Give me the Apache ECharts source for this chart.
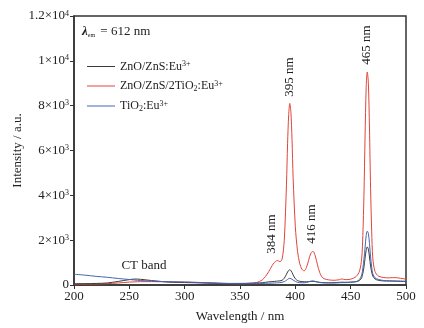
<!DOCTYPE html>
<html>
<head>
<meta charset="utf-8">
<title>Excitation spectra</title>
<script src="https://cdn.jsdelivr.net/npm/echarts@6/dist/echarts.min.js"></script>
<style>
html, body { margin: 0; padding: 0; background: #fff; }
#main { width: 424px; height: 328px; }
</style>
</head>
<body>
<div id="main"></div>
<script>
// wavelengths (nm), shared by all three curves
var wl = [200,210,220,230,240,250,255,260,270,280,290,300,310,320,330,340,350,360,365,370,
  373,376,379,381,383,384,386,388,390,392,393,394,395,396,397,398,400,402,404,406,408,
  410,412,414,416,418,420,422,424,426,430,435,440,442,445,450,455,458,460,461,462,463,
  464,465,466,467,468,469,470,472,475,480,485,490,495,500];

// ZnO/ZnS:Eu3+
var blackI = [60,60,70,90,160,240,265,255,200,150,120,110,100,90,80,70,70,80,90,100,
  120,140,150,160,170,175,185,210,300,480,580,650,680,640,560,450,280,200,165,150,145,
  145,150,160,165,150,135,120,110,105,100,105,120,125,120,130,150,200,330,520,800,1200,
  1550,1700,1600,1250,850,580,400,270,210,180,175,170,160,150];

// ZnO/ZnS/2TiO2:Eu3+
var redI = [40,40,45,60,90,130,140,150,150,145,140,130,110,90,70,60,60,80,110,220,
  380,600,860,1000,1080,1090,1040,1150,2000,4500,6300,7600,8100,7700,6500,4800,2600,1500,950,700,630,
  780,1100,1420,1500,1300,900,560,360,280,230,210,240,270,240,260,380,620,1200,2200,4000,6600,
  8800,9500,9000,7000,4300,2400,1200,600,400,330,320,330,300,260];

// TiO2:Eu3+
var blueI = [480,440,385,345,290,245,220,200,175,155,140,130,120,100,80,65,55,60,65,70,
  75,80,85,90,95,100,105,120,150,210,250,285,300,285,255,220,160,120,105,100,100,
  110,140,170,180,160,130,110,100,95,90,90,100,105,105,120,150,250,450,750,1150,1650,
  2200,2400,2300,1850,1250,800,500,320,250,200,190,180,175,170];

var names = ['ZnO/ZnS:Eu3+', 'ZnO/ZnS/2TiO2:Eu3+', 'TiO2:Eu3+'];
var legendText = {
  'ZnO/ZnS:Eu3+': 'ZnO/ZnS:Eu{sup|3+}',
  'ZnO/ZnS/2TiO2:Eu3+': 'ZnO/ZnS/2TiO{sub|2}:Eu{sup|3+}',
  'TiO2:Eu3+': 'TiO{sub|2}:Eu{sup|3+}'
};
var yTicks = {0: '0', 2000: '2×10{sup|3}', 4000: '4×10{sup|3}', 6000: '6×10{sup|3}',
  8000: '8×10{sup|3}', 10000: '1×10{sup|4}', 12000: '1.2×10{sup|4}'};
var peaks = [
  {text: '384 nm', x: 272, y: 234},
  {text: '395 nm', x: 290, y: 77},
  {text: '416 nm', x: 312, y: 224},
  {text: '465 nm', x: 367, y: 45}
];

function pairs(vals) {
  var out = [];
  for (var i = 0; i < wl.length; i++) out.push([wl[i], vals[i]]);
  return out;
}

var font = 'Liberation Serif';
var rich = {
  sup: {fontSize: 8, fontFamily: font, color: '#222', verticalAlign: 'top', padding: [0, 0, 5, 0]},
  sub: {fontSize: 8, fontFamily: font, color: '#222', verticalAlign: 'bottom', padding: [5, 0, 0, 0]}
};

var chart = echarts.init(document.getElementById('main'));

var graphics = [{
  type: 'text', left: 82, top: 25,
  style: {
    text: '{it|λ}{s|em} = 612 nm',
    font: '13px ' + font, fill: '#222',
    rich: {
      it: {fontStyle: 'italic', fontWeight: 'bold', fontSize: 13, fontFamily: font},
      s: {fontSize: 6, fontFamily: font, padding: [7, 2, 0, 0]}
    }
  }
}, {
  type: 'text', x: 144, y: 266,
  style: {text: 'CT band', font: '13px ' + font, fill: '#222', textAlign: 'center', textVerticalAlign: 'middle'}
}];
peaks.forEach(function (p) {
  graphics.push({
    type: 'text', x: p.x, y: p.y, rotation: Math.PI / 2,
    style: {text: p.text, font: '13px ' + font, fill: '#222', textAlign: 'center', textVerticalAlign: 'middle'}
  });
});

chart.setOption({
  animation: false,
  grid: {left: 74, right: 18, top: 16, bottom: 43, outerBoundsMode: 'none',
    show: true, borderColor: '#333', borderWidth: 1.5},
  legend: {
    orient: 'vertical', left: 82, top: 55,
    itemWidth: 28, itemHeight: 10, itemGap: 7,
    icon: 'path://M0,0 L28,0 L28,1 L0,1 Z',
    data: names,
    formatter: function (n) { return legendText[n]; },
    textStyle: {fontFamily: font, fontSize: 12, color: '#222', rich: rich}
  },
  xAxis: {
    type: 'value', min: 200, max: 500, interval: 50,
    name: 'Wavelength / nm', nameLocation: 'middle', nameGap: 25, nameMoveOverlap: false,
    nameTextStyle: {fontFamily: font, fontSize: 13, color: '#222'},
    axisLine: {lineStyle: {color: '#333', width: 1.5}},
    axisTick: {inside: false, length: 4, lineStyle: {color: '#333'}},
    axisLabel: {fontFamily: font, fontSize: 13, color: '#222', margin: 5},
    splitLine: {show: false}
  },
  yAxis: {
    type: 'value', min: 0, max: 12000, interval: 2000,
    name: 'Intensity / a.u.', nameLocation: 'middle', nameGap: 50, nameMoveOverlap: false,
    nameTextStyle: {fontFamily: font, fontSize: 13, color: '#222'},
    axisLine: {show: true, lineStyle: {color: '#333', width: 1.5}},
    axisTick: {show: true, inside: false, length: 4, lineStyle: {color: '#333'}},
    axisLabel: {
      fontFamily: font, fontSize: 13, color: '#222', margin: 5,
      formatter: function (v) { return yTicks[v]; },
      rich: rich
    },
    splitLine: {show: false}
  },
  series: [
    {name: names[0], type: 'line', data: pairs(blackI), showSymbol: false, smooth: 0.3,
      lineStyle: {color: '#3a3a3a', width: 1}, itemStyle: {color: '#3a3a3a'}, z: 3},
    {name: names[1], type: 'line', data: pairs(redI), showSymbol: false, smooth: 0.3,
      lineStyle: {color: '#e0453c', width: 1}, itemStyle: {color: '#e0453c'}, z: 2},
    {name: names[2], type: 'line', data: pairs(blueI), showSymbol: false, smooth: 0.3,
      lineStyle: {color: '#4466b3', width: 1}, itemStyle: {color: '#4466b3'}, z: 4}
  ],
  graphic: graphics
});
</script>
</body>
</html>
